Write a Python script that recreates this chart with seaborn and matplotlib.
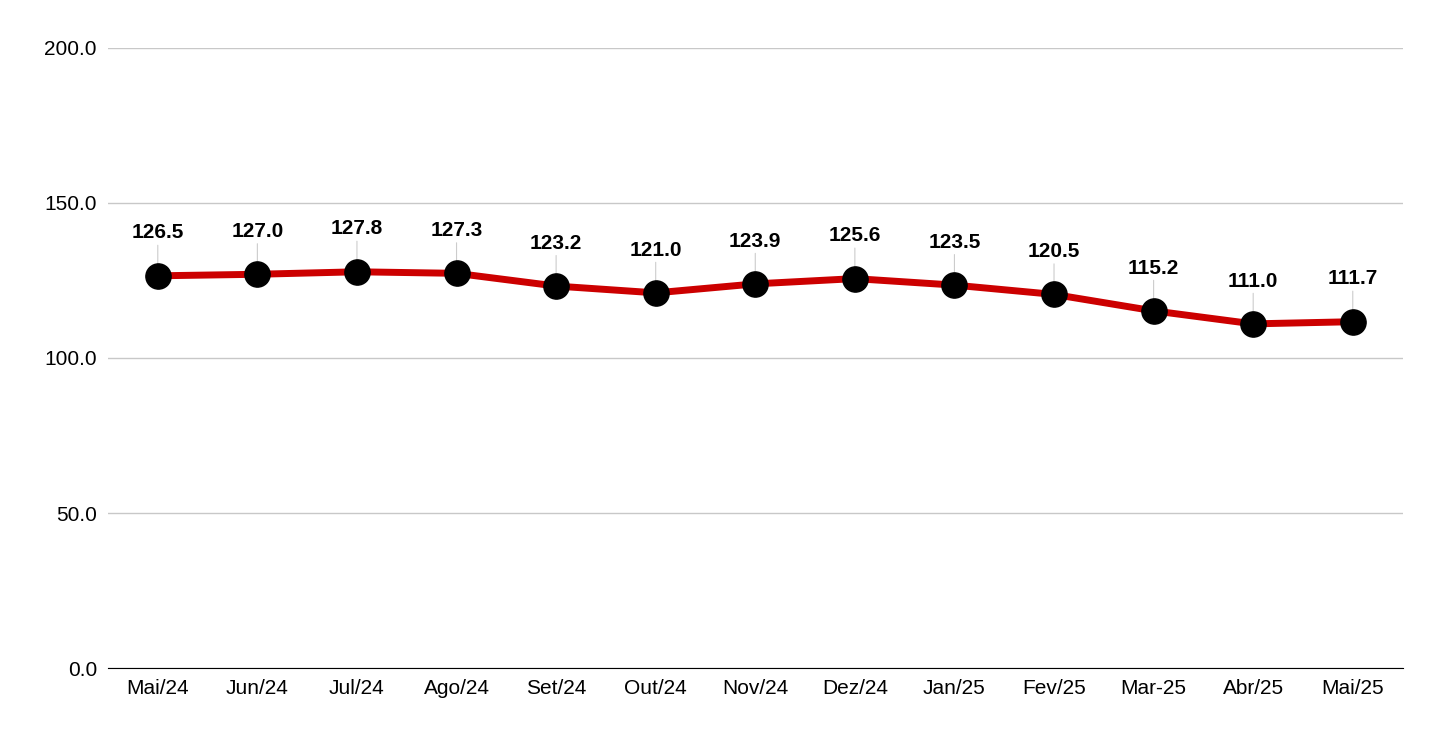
import matplotlib
matplotlib.use("Agg")
import matplotlib.pyplot as plt
import seaborn as sns
import pandas as pd

months = ["Mai/24","Jun/24","Jul/24","Ago/24","Set/24","Out/24","Nov/24","Dez/24","Jan/25","Fev/25","Mar-25","Abr/25","Mai/25"]
values = [126.5,127.0,127.8,127.3,123.2,121.0,123.9,125.6,123.5,120.5,115.2,111.0,111.7]
yticks = [0,50,100,150,200]

plt.rcParams["font.family"] = "Liberation Sans"
df = pd.DataFrame({"m": range(len(months)), "v": values})
fig = plt.figure(figsize=(14.4,7.42), dpi=100)
ax = fig.add_axes([0.075,0.0997,0.899,0.8357])
for i, v in enumerate(values):
    ax.annotate("", xy=(i, v), xytext=(0, 24), textcoords="offset points",
                arrowprops=dict(arrowstyle="-", color="#cccccc", lw=0.8), zorder=1)
    ax.annotate(f"{v:.1f}", xy=(i, v), xytext=(0, 24), textcoords="offset points",
                ha="center", va="bottom", fontsize=15, fontweight="bold")
sns.lineplot(data=df, x="m", y="v", ax=ax, color="#cc0000", lw=5, zorder=2)
ax.scatter(df["m"], df["v"], s=330, color="black", zorder=3)
ax.set_xlim(-0.5, 12.5)
ax.set_ylim(0, 200)
ax.set_yticks(yticks)
ax.set_yticklabels([f"{t:.1f}" for t in yticks], fontsize=15)
ax.set_xticks(range(len(months)))
ax.set_xticklabels(months, fontsize=15)
ax.grid(axis="y", color="#c8c8c8", lw=1)
ax.set_axisbelow(True)
for s in ["top","right","left"]:
    ax.spines[s].set_visible(False)
ax.spines["bottom"].set_color("black")
ax.tick_params(length=0, pad=8)
ax.set_xlabel(""); ax.set_ylabel("")
fig.savefig("out.png", dpi=100)
